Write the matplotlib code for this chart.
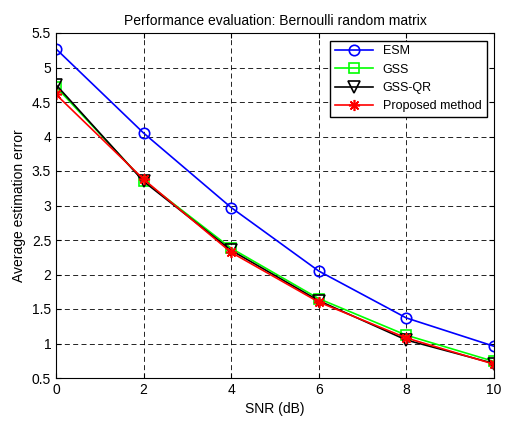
import matplotlib
matplotlib.use("Agg")
import matplotlib.pyplot as plt

plt.rcParams['font.family'] = ['Liberation Sans', 'DejaVu Sans']

# Donnees
snr = [0, 2, 4, 6, 8, 10]
esm = [5.27, 4.05, 2.97, 2.05, 1.37, 0.96]
gss = [4.72, 3.36, 2.38, 1.65, 1.12, 0.74]
gss_qr = [4.75, 3.35, 2.35, 1.62, 1.05, 0.71]
proposed = [4.61, 3.38, 2.32, 1.60, 1.08, 0.70]

fig = plt.figure(figsize=(5.15, 4.25), dpi=100)
ax = fig.add_axes([56 / 515, 1 - 378 / 425, (494 - 56) / 515, (378 - 33) / 425])

ax.plot(snr, esm, color="blue", marker="o", markersize=7.5, markerfacecolor="none",
        markeredgewidth=1.2, linewidth=1.2, label="ESM")
ax.plot(snr, gss, color="#00ff00", marker="s", markersize=7, markerfacecolor="none",
        markeredgewidth=1.2, linewidth=1.2, label="GSS")
ax.plot(snr, gss_qr, color="black", marker="v", markersize=8, markerfacecolor="none",
        markeredgewidth=1.2, linewidth=1.2, label="GSS-QR")
ax.plot(snr, proposed, color="red", marker=(8, 2, 0), markersize=8,
        markeredgewidth=1.2, linewidth=1.2, label="Proposed method")

ax.set_xlim(0, 10)
ax.set_ylim(0.5, 5.5)
ax.set_xticks(snr)
ax.set_yticks([0.5, 1, 1.5, 2, 2.5, 3, 3.5, 4, 4.5, 5, 5.5])
ax.set_yticklabels(["0.5", "1", "1.5", "2", "2.5", "3", "3.5", "4", "4.5", "5", "5.5"])
ax.tick_params(direction="in", labelsize=10, top=True, right=True)
ax.grid(True, color="black", linestyle=(0, (6, 4)), linewidth=0.6)

ax.set_xlabel("SNR (dB)", fontsize=10)
ax.set_ylabel("Average estimation error", fontsize=10)
ax.set_title("Performance evaluation: Bernoulli random matrix", fontsize=10)

leg = ax.legend(loc="upper right", fontsize=9, fancybox=False, framealpha=1,
                edgecolor="black", handlelength=3, borderaxespad=0.6)
leg.get_frame().set_linewidth(1.0)

fig.savefig("out.png", dpi=100)
